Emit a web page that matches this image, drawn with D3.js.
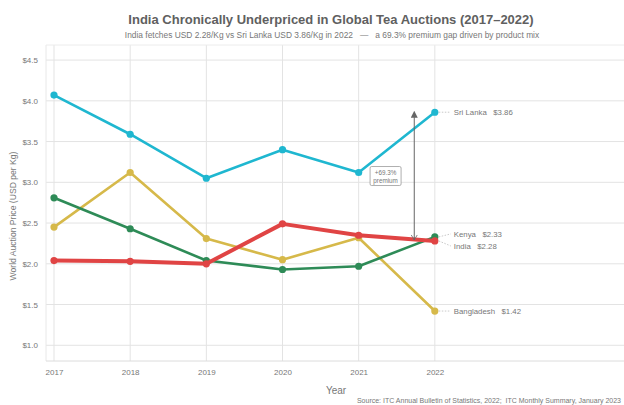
<!DOCTYPE html>
<html><head><meta charset="utf-8">
<script src="https://cdn.jsdelivr.net/npm/d3@7"></script>
<style>body{margin:0;background:#fff;font-family:"Liberation Sans",Arial,sans-serif} text{white-space:pre}</style>
</head><body><svg id="c" width="624" height="405"></svg>
<script>
const years = [2017, 2018, 2019, 2020, 2021, 2022];
const sriLanka = [4.07, 3.59, 3.05, 3.40, 3.12, 3.86];
const bangladesh = [2.45, 3.12, 2.31, 2.05, 2.32, 1.42];
const kenya = [2.81, 2.43, 2.04, 1.93, 1.97, 2.33];
const india = [2.04, 2.03, 2.00, 2.49, 2.35, 2.28];
const yTicks = [1.0, 1.5, 2.0, 2.5, 3.0, 3.5, 4.0, 4.5];
const seriesNames = ["Sri Lanka", "Bangladesh", "Kenya", "India"];
const seriesColors = ["#1fb7d0", "#d6b94a", "#2e8b57", "#e04444"];

const series = [
  {name: seriesNames[0], values: sriLanka, color: seriesColors[0], w: 2.6},
  {name: seriesNames[1], values: bangladesh, color: seriesColors[1], w: 2.6},
  {name: seriesNames[2], values: kenya, color: seriesColors[2], w: 2.6},
  {name: seriesNames[3], values: india, color: seriesColors[3], w: 4}
];

const svg = d3.select("#c");
const L = 46, R = 626, T = 45, B = 361;
const x = d3.scaleLinear().domain([2016.895, 2024.51]).range([L, R]);
const y = d3.scaleLinear().domain([0.807, 4.685]).range([B, T]);

// grid
const g = svg.append("g");
g.selectAll(".hg").data(yTicks).join("line")
  .attr("x1", L).attr("x2", R).attr("y1", d => y(d)).attr("y2", d => y(d))
  .attr("stroke", "#e3e3e3").attr("stroke-width", 1);
g.selectAll(".vg").data(years).join("line")
  .attr("y1", T).attr("y2", B).attr("x1", d => x(d)).attr("x2", d => x(d))
  .attr("stroke", "#e3e3e3").attr("stroke-width", 1);
g.append("line").attr("x1", L).attr("x2", L).attr("y1", T).attr("y2", B).attr("stroke", "#e8e8e8");
g.append("line").attr("x1", L).attr("x2", R).attr("y1", T).attr("y2", T).attr("stroke", "#ececec");
g.append("line").attr("x1", L).attr("x2", R).attr("y1", B).attr("y2", B).attr("stroke", "#dcdcdc");

// axes
const xAxis = d3.axisBottom(x).tickValues(years).tickFormat(d3.format("d")).tickSize(0).tickPadding(8);
const xa = svg.append("g").attr("transform", `translate(0,${B})`).call(xAxis);
xa.select(".domain").remove();
xa.selectAll("text").attr("fill", "#777").attr("font-size", 8).attr("font-family", "Liberation Sans, Arial");

const yAxis = d3.axisLeft(y).tickValues(yTicks).tickFormat(d => "$" + d3.format(".1f")(d)).tickSize(0).tickPadding(8);
const ya = svg.append("g").attr("transform", `translate(${L},0)`).call(yAxis);
ya.select(".domain").remove();
ya.selectAll("text").attr("fill", "#777").attr("font-size", 8).attr("font-family", "Liberation Sans, Arial");

// titles
svg.append("text").attr("x", 331).attr("y", 24).attr("text-anchor", "middle")
  .attr("font-size", 13).attr("font-weight", "bold").attr("fill", "#606060")
  .text("India Chronically Underpriced in Global Tea Auctions (2017\u20132022)");
svg.append("text").attr("x", 332).attr("y", 38).attr("text-anchor", "middle")
  .attr("font-size", 8.4).attr("fill", "#777")
  .text("India fetches USD 2.28/Kg vs Sri Lanka USD 3.86/Kg in 2022   \u2014   a 69.3% premium gap driven by product mix");
svg.append("text").attr("x", 336).attr("y", 394).attr("text-anchor", "middle")
  .attr("font-size", 10).attr("fill", "#777").text("Year");
svg.append("text").attr("transform", "translate(16,216) rotate(-90)").attr("text-anchor", "middle")
  .attr("font-size", 8.6).attr("fill", "#777").text("World Auction Price (USD per Kg)");
svg.append("text").attr("x", 621).attr("y", 403).attr("text-anchor", "end")
  .attr("font-size", 7).attr("fill", "#777")
  .text("Source: ITC Annual Bulletin of Statistics, 2022;  ITC Monthly Summary, January 2023");

// lines
const line = d3.line().x((d, i) => x(years[i])).y(d => y(d));
const order = [1, 2, 0, 3];
order.forEach(k => {
  const s = series[k];
  const sg = svg.append("g");
  sg.append("path").datum(s.values).attr("d", line).attr("fill", "none")
    .attr("stroke", s.color).attr("stroke-width", s.w).attr("stroke-linejoin", "round");
  sg.selectAll("circle").data(s.values).join("circle")
    .attr("cx", (d, i) => x(years[i])).attr("cy", d => y(d)).attr("r", 3.6).attr("fill", s.color);
});

// end labels
const last = years.length - 1;
const labelOffsets = {"Sri Lanka": 0, "Bangladesh": 0, "Kenya": -3, "India": 5};
series.forEach(s => {
  const v = s.values[last];
  const px = x(years[last]), py = y(v), ly = py + labelOffsets[s.name];
  svg.append("line").attr("x1", px + 4).attr("y1", py).attr("x2", px + 16).attr("y2", ly)
    .attr("stroke", "#bbb").attr("stroke-width", 0.8).attr("stroke-dasharray", "1.5,1.5");
  svg.append("text").attr("x", px + 19).attr("y", ly + 3).attr("font-size", 7.8).attr("fill", "#777")
    .text(s.name + "   $" + d3.format(".2f")(v));
});

// premium annotation arrow
const ax = x(2021.73);
svg.append("defs").append("marker").attr("id", "ah").attr("viewBox", "0 0 10 10")
  .attr("refX", 5).attr("refY", 5).attr("markerWidth", 7).attr("markerHeight", 7).attr("orient", "auto-start-reverse")
  .append("path").attr("d", "M0,0 L10,5 L0,10 z").attr("fill", "#666");
svg.append("line").attr("x1", ax).attr("x2", ax).attr("y1", y(india[last]) - 1).attr("y2", y(sriLanka[last]) + 2)
  .attr("stroke", "#666").attr("stroke-width", 1).attr("marker-end", "url(#ah)");
svg.append("path").attr("d", `M${ax - 3},${y(india[last]) - 6} L${ax},${y(india[last]) - 1} L${ax + 3},${y(india[last]) - 6}`)
  .attr("fill", "none").attr("stroke", "#666").attr("stroke-width", 0.8);
const bx = x(2021.15), by = y(3.12) - 6;
svg.append("rect").attr("x", bx).attr("y", by).attr("width", 31).attr("height", 19).attr("rx", 1.5)
  .attr("fill", "#fff").attr("stroke", "#999").attr("stroke-width", 0.8);
svg.append("text").attr("x", bx + 15.5).attr("y", by + 8).attr("text-anchor", "middle").attr("font-size", 6.3).attr("fill", "#777").text("+69.3%");
svg.append("text").attr("x", bx + 15.5).attr("y", by + 16).attr("text-anchor", "middle").attr("font-size", 6.3).attr("fill", "#777").text("premium");
</script></body></html>
